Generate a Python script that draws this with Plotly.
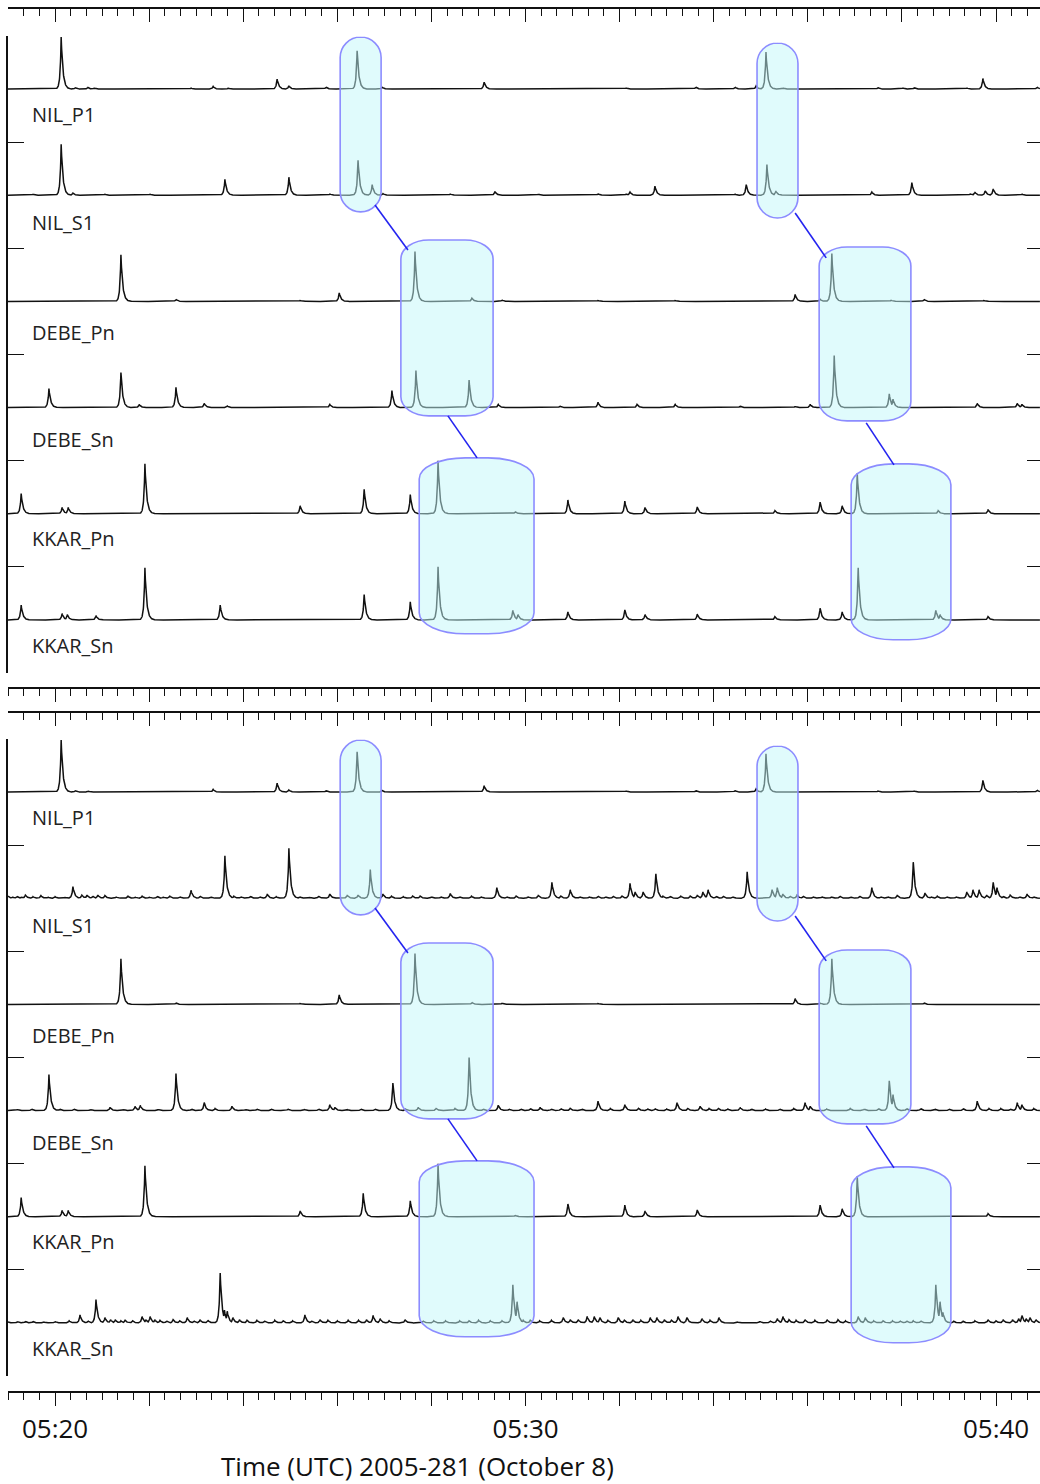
import numpy as np
import plotly.graph_objects as go

# Figure geometry (pixels)
W, H = 1040, 1484
X_LEFT = 8                 # left edge of the trace area
TOP_AXIS = [8, 688]        # x-axis lines of the upper panel (top, bottom)
BOT_AXIS = [712, 1392]     # x-axis lines of the lower panel (top, bottom)
TOP_BAND = [36, 673]       # extent of the six trace bands, upper panel
BOT_BAND = [739, 1376]     # extent of the six trace bands, lower panel

# Time axis in minutes after 05:00 UTC
T_START, T_END = 19.0, 40.934
MAJOR_TICKS = [20, 22, 24, 26, 28, 30, 32, 34, 36, 38, 40]
MAJOR_LABELS = ["05:20", "", "", "", "", "05:30", "", "", "", "", "05:40"]
MINOR_STEP = 1 / 3         # 20 s

STATIONS = ["NIL_P1", "NIL_S1", "DEBE_Pn", "DEBE_Sn", "KKAR_Pn", "KKAR_Sn"]
LABEL_DROP = [0.235, 0.255, 0.29, 0.30, 0.235, 0.245]   # label offset below each baseline

# Detection peaks per beam: (minute, normalised amplitude) -- upper panel
UP_NIL_P1 = [(20.13, 0.49), (20.43, 0.015), (20.70, 0.015), (20.83, 0.012), (22.89, 0.01),
             (23.36, 0.025), (23.68, 0.01), (24.72, 0.094), (24.97, 0.03), (25.76, 0.02),
             (26.42, 0.36), (26.95, 0.02), (29.12, 0.066), (32.14, 0.012), (33.62, 0.02),
             (34.45, 0.02), (34.90, 0.03), (35.11, 0.35), (35.47, 0.012), (37.49, 0.015),
             (38.02, 0.012), (38.26, 0.015), (39.38, 0.01), (39.72, 0.10), (40.87, 0.02)]
UP_NIL_S1 = [(19.53, 0.01), (20.13, 0.48), (20.38, 0.02), (21.06, 0.01), (22.02, 0.01),
             (23.61, 0.15), (24.97, 0.17), (25.84, 0.012), (26.44, 0.33), (26.74, 0.10),
             (26.97, 0.015), (28.40, 0.012), (29.35, 0.035), (30.27, 0.01), (31.54, 0.015),
             (32.14, 0.012), (32.22, 0.03), (32.75, 0.085), (34.45, 0.012), (34.69, 0.10),
             (35.13, 0.29), (35.32, 0.04), (37.36, 0.03), (38.21, 0.12), (39.45, 0.015),
             (39.55, 0.03), (39.77, 0.04), (39.94, 0.06), (40.55, 0.012)]
UP_DEBE_PN = [(21.40, 0.44), (22.57, 0.02), (25.21, 0.01), (26.04, 0.08), (27.65, 0.47),
              (28.86, 0.03), (29.50, 0.015), (31.54, 0.01), (33.18, 0.01), (35.73, 0.065),
              (36.26, 0.02), (36.51, 0.45), (37.77, 0.012), (38.47, 0.02), (39.74, 0.01)]
UP_DEBE_SN = [(19.87, 0.18), (21.40, 0.33), (21.79, 0.03), (22.57, 0.19), (23.17, 0.04),
              (23.66, 0.015), (25.84, 0.03), (27.16, 0.16), (27.67, 0.35), (28.80, 0.26),
              (29.42, 0.03), (30.73, 0.015), (31.54, 0.05), (32.37, 0.03), (33.18, 0.03),
              (34.56, 0.015), (35.73, 0.012), (36.05, 0.03), (36.56, 0.49), (37.73, 0.13),
              (37.81, 0.08), (39.60, 0.04), (40.45, 0.04), (40.55, 0.03)]
UP_KKAR_PN = [(19.28, 0.19), (20.15, 0.06), (20.28, 0.06), (21.91, 0.47), (25.21, 0.075),
              (26.57, 0.23), (27.55, 0.18), (28.14, 0.50), (29.78, 0.02), (30.90, 0.13),
              (32.11, 0.12), (32.54, 0.06), (33.65, 0.065), (35.30, 0.03), (36.26, 0.11),
              (36.73, 0.075), (37.05, 0.38), (38.77, 0.03), (39.83, 0.04)]
UP_KKAR_SN = [(19.28, 0.14), (20.15, 0.06), (20.26, 0.05), (20.87, 0.04), (21.91, 0.49),
              (23.51, 0.14), (26.57, 0.24), (27.55, 0.17), (28.14, 0.50), (29.73, 0.09),
              (29.84, 0.05), (30.90, 0.075), (32.11, 0.095), (32.54, 0.05), (33.65, 0.055),
              (35.30, 0.03), (36.26, 0.11), (36.73, 0.075), (37.07, 0.49), (38.72, 0.09),
              (38.81, 0.05), (39.83, 0.03)]

# Lower panel
LO_NIL_P1 = [(20.13, 0.49), (20.43, 0.015), (20.70, 0.012), (23.36, 0.025), (24.72, 0.085),
             (24.97, 0.02), (25.76, 0.015), (26.42, 0.38), (26.95, 0.015), (29.12, 0.06),
             (32.14, 0.012), (33.62, 0.015), (34.45, 0.015), (34.90, 0.03), (35.11, 0.36),
             (37.49, 0.012), (38.26, 0.012), (39.72, 0.11), (40.87, 0.02)]
LO_NIL_S1 = [(19.00, 0.02), (19.10, 0.012), (19.19, 0.02), (19.28, 0.012), (19.37, 0.03),
             (19.53, 0.015), (19.70, 0.025), (19.85, 0.012), (20.00, 0.015), (20.20, 0.012),
             (20.38, 0.11), (20.57, 0.03), (20.68, 0.03), (20.80, 0.02), (20.91, 0.03),
             (21.06, 0.025), (21.30, 0.012), (21.55, 0.02), (21.70, 0.012), (21.85, 0.02),
             (22.00, 0.012), (22.17, 0.02), (22.30, 0.012), (22.44, 0.02), (22.65, 0.015),
             (22.89, 0.075), (23.08, 0.02), (23.30, 0.015), (23.61, 0.40), (23.80, 0.02),
             (23.95, 0.015), (24.15, 0.02), (24.35, 0.015), (24.51, 0.04), (24.70, 0.015),
             (24.97, 0.47), (25.20, 0.015), (25.40, 0.012), (25.60, 0.02), (25.84, 0.04),
             (26.21, 0.03), (26.44, 0.03), (26.70, 0.27), (26.97, 0.04), (27.15, 0.02),
             (27.40, 0.015), (27.60, 0.02), (27.76, 0.02), (28.00, 0.015), (28.20, 0.015),
             (28.40, 0.045), (28.60, 0.015), (28.85, 0.02), (29.05, 0.015), (29.39, 0.10),
             (29.60, 0.015), (29.80, 0.02), (30.05, 0.015), (30.27, 0.03), (30.56, 0.15),
             (30.75, 0.02), (30.95, 0.08), (31.15, 0.015), (31.35, 0.015), (31.54, 0.02),
             (31.70, 0.015), (31.86, 0.02), (32.05, 0.02), (32.22, 0.14), (32.33, 0.06),
             (32.50, 0.06), (32.77, 0.23), (32.92, 0.02), (33.07, 0.02), (33.30, 0.02),
             (33.50, 0.02), (33.65, 0.03), (33.77, 0.06), (33.88, 0.08), (34.05, 0.02),
             (34.20, 0.02), (34.40, 0.015), (34.71, 0.25), (35.24, 0.08), (35.35, 0.10),
             (35.47, 0.04), (35.62, 0.02), (35.77, 0.03), (35.90, 0.02), (36.11, 0.015),
             (36.30, 0.015), (36.50, 0.015), (36.68, 0.02), (36.90, 0.015), (37.10, 0.02),
             (37.36, 0.10), (37.55, 0.015), (37.70, 0.015), (37.90, 0.03), (38.24, 0.34),
             (38.49, 0.05), (38.62, 0.015), (38.75, 0.02), (38.95, 0.015), (39.15, 0.015),
             (39.38, 0.06), (39.51, 0.08), (39.64, 0.08), (39.80, 0.03), (39.94, 0.15),
             (40.02, 0.10), (40.15, 0.02), (40.30, 0.03), (40.50, 0.015), (40.66, 0.04),
             (40.80, 0.015)]
LO_DEBE_PN = [(21.40, 0.43), (22.57, 0.015), (25.21, 0.01), (26.04, 0.09), (27.65, 0.48),
              (28.86, 0.02), (29.50, 0.012), (31.54, 0.01), (35.73, 0.055), (36.26, 0.015),
              (36.51, 0.43), (38.47, 0.015)]
LO_DEBE_SN = [(19.20, 0.012), (19.50, 0.015), (19.87, 0.34), (20.10, 0.015), (20.40, 0.015),
              (20.75, 0.012), (21.17, 0.03), (21.45, 0.012), (21.70, 0.04), (21.81, 0.05),
              (22.20, 0.012), (22.57, 0.35), (22.90, 0.015), (23.17, 0.075), (23.40, 0.02),
              (23.76, 0.04), (24.05, 0.012), (24.29, 0.015), (24.60, 0.012), (24.95, 0.015),
              (25.30, 0.012), (25.60, 0.015), (25.84, 0.055), (25.95, 0.03), (26.20, 0.012),
              (26.50, 0.015), (26.80, 0.015), (27.18, 0.26), (27.45, 0.015), (27.72, 0.03),
              (28.10, 0.02), (28.50, 0.02), (28.80, 0.50), (29.10, 0.015), (29.42, 0.05),
              (29.65, 0.015), (29.90, 0.015), (30.10, 0.02), (30.31, 0.03), (30.55, 0.015),
              (30.75, 0.02), (30.95, 0.02), (31.20, 0.015), (31.54, 0.09), (31.80, 0.02),
              (32.11, 0.055), (32.40, 0.02), (32.60, 0.015), (32.75, 0.02), (33.00, 0.015),
              (33.22, 0.075), (33.45, 0.02), (33.71, 0.04), (33.90, 0.02), (34.10, 0.02),
              (34.30, 0.015), (34.56, 0.03), (34.80, 0.015), (35.10, 0.015), (35.40, 0.015),
              (35.70, 0.02), (35.94, 0.075), (36.05, 0.04), (36.40, 0.015), (36.90, 0.02),
              (37.20, 0.015), (37.50, 0.02), (37.73, 0.28), (37.81, 0.15), (38.10, 0.02),
              (38.40, 0.02), (38.70, 0.015), (39.00, 0.015), (39.30, 0.02), (39.60, 0.09),
              (39.85, 0.02), (40.10, 0.02), (40.30, 0.015), (40.45, 0.075), (40.55, 0.055),
              (40.80, 0.02)]
LO_KKAR_PN = [(19.28, 0.18), (20.15, 0.06), (20.28, 0.06), (21.91, 0.48), (25.21, 0.055),
              (26.55, 0.22), (27.55, 0.15), (28.14, 0.50), (29.78, 0.015), (30.90, 0.12),
              (32.11, 0.11), (32.54, 0.055), (33.65, 0.065), (36.26, 0.11), (36.73, 0.075),
              (37.05, 0.38), (39.83, 0.03)]
LO_KKAR_SN = [(19.00, 0.01), (19.20, 0.015), (19.37, 0.015), (19.53, 0.015), (19.75, 0.012),
              (20.00, 0.015), (20.30, 0.02), (20.53, 0.075), (20.70, 0.02), (20.87, 0.22),
              (21.06, 0.05), (21.18, 0.03), (21.28, 0.03), (21.40, 0.02), (21.49, 0.025),
              (21.65, 0.02), (21.85, 0.06), (21.93, 0.03), (22.02, 0.06), (22.12, 0.03),
              (22.23, 0.025), (22.37, 0.02), (22.51, 0.03), (22.65, 0.02), (22.81, 0.05),
              (22.95, 0.02), (23.08, 0.03), (23.25, 0.025), (23.51, 0.47), (23.60, 0.12),
              (23.66, 0.11), (23.78, 0.05), (23.92, 0.03), (24.08, 0.025), (24.29, 0.025),
              (24.45, 0.02), (24.67, 0.025), (24.85, 0.02), (25.05, 0.02), (25.31, 0.075),
              (25.45, 0.02), (25.63, 0.03), (25.80, 0.025), (26.00, 0.02), (26.23, 0.025),
              (26.45, 0.025), (26.62, 0.03), (26.76, 0.07), (26.91, 0.04), (27.10, 0.02),
              (27.44, 0.03), (27.82, 0.02), (28.05, 0.02), (28.30, 0.02), (28.60, 0.02),
              (28.80, 0.02), (29.00, 0.025), (29.25, 0.02), (29.50, 0.02), (29.73, 0.36),
              (29.82, 0.20), (29.95, 0.025), (30.10, 0.025), (30.30, 0.02), (30.55, 0.025),
              (30.80, 0.05), (30.95, 0.03), (31.12, 0.03), (31.31, 0.06), (31.46, 0.06),
              (31.58, 0.05), (31.75, 0.025), (31.97, 0.05), (32.10, 0.025), (32.28, 0.03),
              (32.45, 0.025), (32.65, 0.05), (32.79, 0.05), (32.95, 0.03), (33.10, 0.025),
              (33.24, 0.06), (33.43, 0.05), (33.75, 0.04), (33.92, 0.025), (34.11, 0.05),
              (34.50, 0.01), (34.98, 0.015), (35.20, 0.02), (35.35, 0.04), (35.47, 0.06),
              (35.60, 0.03), (35.75, 0.025), (35.94, 0.03), (36.15, 0.025), (36.41, 0.03),
              (36.64, 0.03), (36.80, 0.02), (37.07, 0.06), (37.22, 0.05), (37.40, 0.02),
              (37.60, 0.02), (37.80, 0.02), (37.96, 0.02), (38.10, 0.02), (38.24, 0.02),
              (38.40, 0.02), (38.72, 0.36), (38.81, 0.20), (38.87, 0.10), (39.10, 0.015),
              (39.30, 0.015), (39.55, 0.02), (39.83, 0.03), (40.00, 0.02), (40.15, 0.03),
              (40.35, 0.03), (40.48, 0.04), (40.55, 0.07), (40.64, 0.04), (40.72, 0.05),
              (40.85, 0.03)]

UPPER = [UP_NIL_P1, UP_NIL_S1, UP_DEBE_PN, UP_DEBE_SN, UP_KKAR_PN, UP_KKAR_SN]
LOWER = [LO_NIL_P1, LO_NIL_S1, LO_DEBE_PN, LO_DEBE_SN, LO_KKAR_PN, LO_KKAR_SN]

# Association boxes: t0, t1 (minutes), y_top, y_bottom (band units), corner radii (px)
BOXES = [(26.06, 26.93, 5.99, 4.343, 20.5, 20.5),
         (27.35, 29.31, 4.079, 2.422, 28, 19),
         (27.74, 30.18, 2.026, 0.369, 46, 21),
         (34.92, 35.79, 5.934, 4.286, 20.5, 20.5),
         (36.24, 38.19, 4.013, 2.375, 28, 19),
         (36.92, 39.04, 1.970, 0.313, 42, 21)]
# Links between boxes: (t0, y0, t1, y1)
LINKS = [(26.80, 4.409, 27.50, 3.985),
         (28.35, 2.422, 28.97, 2.026),
         (35.73, 4.333, 36.39, 3.910),
         (37.24, 2.356, 37.83, 1.960)]

INK = "#111111"
FONT = "Open Sans"


def py(p):
    return 1 - p / H


def beam_curve(peaks, rise=0.022, decay=0.038):
    t = np.union1d(np.arange(T_START, T_END, 0.004), [p[0] for p in peaks])
    y = np.zeros_like(t)
    for tp, h in peaks:
        d = t - tp
        k = np.where(d < 0, np.exp(np.minimum(d, 0) / rise), np.exp(-np.maximum(d, 0) / decay))
        y = np.maximum(y, h * k)
    return t, y


px_per_min = (W - X_LEFT) / (T_END - T_START)
px_per_unit = (TOP_BAND[1] - TOP_BAND[0]) / 6.0


def box_path(t0, t1, ytop, ybot, rxp, ryp):
    rx = rxp / px_per_min
    ry = ryp / px_per_unit
    k = 0.5523
    pts = [
        f"M{t0 + rx:.4f},{ytop:.4f}",
        f"L{t1 - rx:.4f},{ytop:.4f}",
        f"C{t1 - rx + k * rx:.4f},{ytop:.4f} {t1:.4f},{ytop - ry + k * ry:.4f} {t1:.4f},{ytop - ry:.4f}",
        f"L{t1:.4f},{ybot + ry:.4f}",
        f"C{t1:.4f},{ybot + ry - k * ry:.4f} {t1 - rx + k * rx:.4f},{ybot:.4f} {t1 - rx:.4f},{ybot:.4f}",
        f"L{t0 + rx:.4f},{ybot:.4f}",
        f"C{t0 + rx - k * rx:.4f},{ybot:.4f} {t0:.4f},{ybot + ry - k * ry:.4f} {t0:.4f},{ybot + ry:.4f}",
        f"L{t0:.4f},{ytop - ry:.4f}",
        f"C{t0:.4f},{ytop - ry + k * ry:.4f} {t0 + rx - k * rx:.4f},{ytop:.4f} {t0 + rx:.4f},{ytop:.4f}",
        "Z",
    ]
    return " ".join(pts)


fig = go.Figure()
shapes, annotations = [], []

for panel, (beams, xa, ya) in enumerate([(UPPER, "x", "y"), (LOWER, "x2", "y2")]):
    for i, (name, peaks) in enumerate(zip(STATIONS, beams)):
        base = 5.5 - i
        t, y = beam_curve(peaks)
        fig.add_trace(go.Scatter(x=t, y=base + y, mode="lines", xaxis=xa, yaxis=ya,
                                 line=dict(color=INK, width=1.5), hoverinfo="skip",
                                 showlegend=False))
        annotations.append(dict(x=19.47, y=base - LABEL_DROP[i], xref=xa, yref=ya, text=name,
                                showarrow=False, xanchor="left", yanchor="middle",
                                font=dict(family=FONT, size=20, color="#222")))
    for b in BOXES:
        shapes.append(dict(type="path", path=box_path(*b), xref=xa, yref=ya, layer="above",
                           fillcolor="rgba(193,247,250,0.5)",
                           line=dict(color="#8c8cff", width=1.6)))
    for (a0, b0, a1, b1) in LINKS:
        shapes.append(dict(type="line", x0=a0, y0=b0, x1=a1, y1=b1, xref=xa, yref=ya,
                           layer="above", line=dict(color="#2424f0", width=1.6)))

# anchor traces for the overlay axes
for xa, ya in [("x3", "y"), ("x4", "y2"), ("x", "y3"), ("x2", "y4")]:
    fig.add_trace(go.Scatter(x=[None], y=[None], xaxis=xa, yaxis=ya, showlegend=False,
                             hoverinfo="skip"))

minor_vals = [round(v, 4) for v in np.arange(T_START, T_END, MINOR_STEP)
              if min(abs(v - m) for m in MAJOR_TICKS) > 1e-3]
xdom = [X_LEFT / W, 1.0]


def xaxis(pos, side, ticks, labels=False, overlay=None):
    d = dict(range=[T_START, T_END], anchor="free", position=pos, side=side,
             tickmode="array", tickvals=MAJOR_TICKS, ticktext=MAJOR_LABELS,
             showticklabels=labels, ticks=ticks, ticklen=13, tickwidth=1.3, tickcolor=INK,
             minor=dict(tickmode="array", tickvals=minor_vals, ticks=ticks, ticklen=7,
                        tickwidth=1.2, tickcolor=INK),
             showline=True, linecolor=INK, linewidth=1.5, showgrid=False, zeroline=False,
             fixedrange=True, automargin=False,
             tickfont=dict(family=FONT, size=26, color="#111"), ticklabelstandoff=1)
    if overlay:
        d["overlaying"] = overlay
    else:
        d["domain"] = xdom
    return d


def yaxis(band, anchor, side="left", overlay=None):
    d = dict(range=[0, 6], anchor=anchor, side=side, tickmode="array",
             tickvals=[0, 1, 2, 3, 4, 5, 6], showticklabels=False, ticks="inside",
             ticklen=16 if side == "left" else 13, tickwidth=1.3, tickcolor=INK,
             showline=(side == "left"), linecolor=INK, linewidth=1.5, showgrid=False,
             zeroline=False, fixedrange=True, automargin=False)
    if overlay:
        d["overlaying"] = overlay
    else:
        d["domain"] = [py(band[1]), py(band[0])]
    return d


annotations.append(dict(x=417 / W, y=py(1466), xref="paper", yref="paper",
                        text="Time (UTC) 2005-281 (October 8)", showarrow=False,
                        xanchor="center", yanchor="middle",
                        font=dict(family=FONT, size=26, color="#111")))

fig.update_layout(
    width=W, height=H, margin=dict(l=0, r=0, t=0, b=0),
    paper_bgcolor="white", plot_bgcolor="white", showlegend=False,
    xaxis=xaxis(py(TOP_AXIS[1]), "bottom", "outside"),
    xaxis2=xaxis(py(BOT_AXIS[1]), "bottom", "outside", labels=True),
    xaxis3=xaxis(py(TOP_AXIS[0]), "top", "inside", overlay="x"),
    xaxis4=xaxis(py(BOT_AXIS[0]), "top", "inside", overlay="x2"),
    yaxis=yaxis(TOP_BAND, "x"),
    yaxis2=yaxis(BOT_BAND, "x2"),
    yaxis3=yaxis(TOP_BAND, "x", side="right", overlay="y"),
    yaxis4=yaxis(BOT_BAND, "x2", side="right", overlay="y2"),
    shapes=shapes, annotations=annotations,
)

fig.write_html("out.html")
